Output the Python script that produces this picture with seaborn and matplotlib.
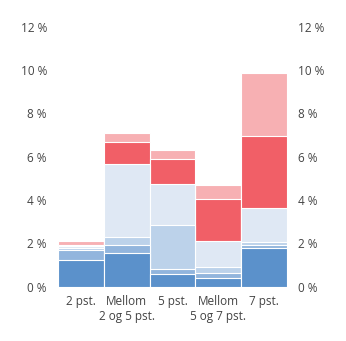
import matplotlib
matplotlib.use("Agg")
import matplotlib.pyplot as plt
import seaborn as sns
import numpy as np
import pandas as pd

categories = ["2 pst.", "Mellom\n2 og 5 pst.", "5 pst.", "Mellom\n5 og 7 pst.", "7 pst."]
s1 = [1.21, 1.54, 0.58, 0.40, 1.77]
s2 = [0.47, 0.40, 0.25, 0.24, 0.17]
s3 = [0.12, 0.37, 2.03, 0.28, 0.13]
s4 = [0.07, 3.36, 1.87, 1.19, 1.58]
s5 = [0.05, 0.99, 1.16, 1.94, 3.29]
s6 = [0.20, 0.43, 0.42, 0.66, 2.93]
series = [s1, s2, s3, s4, s5, s6]
colors = ["#5b91cb", "#92b5dd", "#bcd2ea", "#dfe8f4", "#f15f67", "#f7b0b3"]
yticks = [0, 2, 4, 6, 8, 10, 12]
ytick_labels = ["0 %", "2 %", "4 %", "6 %", "8 %", "10 %", "12 %"]

sns.set_theme(style="white")
plt.rcParams["font.family"] = ["Open Sans", "DejaVu Sans"]

fig = plt.figure(figsize=(3.46, 3.41), dpi=100)
ax = fig.add_axes([58/346, 1-286.5/341, (287-58)/346, (286.5-27)/341])

cum = np.cumsum(np.array(series), axis=0)
for i in range(len(series)-1, -1, -1):
    df = pd.DataFrame({"cat": categories, "val": cum[i]})
    sns.barplot(data=df, x="cat", y="val", color=colors[i], saturation=1,
                width=1.0, edgecolor="white", linewidth=0.8, ax=ax)

ax.set_xlim(-0.5, 4.5)
ax.set_ylim(0, 12)
ax.set_yticks(yticks)
ax.set_yticklabels(ytick_labels)
ax.set_xlabel("")
ax.set_ylabel("")
for sp in ax.spines.values():
    sp.set_visible(False)
ax.tick_params(axis="y", length=0, pad=8, labelsize=8.5, labelcolor="#444444",
               labelleft=True, labelright=True)
ax.tick_params(axis="x", length=0, pad=6, labelsize=8.5, labelcolor="#444444")
ax.grid(False)

fig.savefig("out.png", dpi=100)
